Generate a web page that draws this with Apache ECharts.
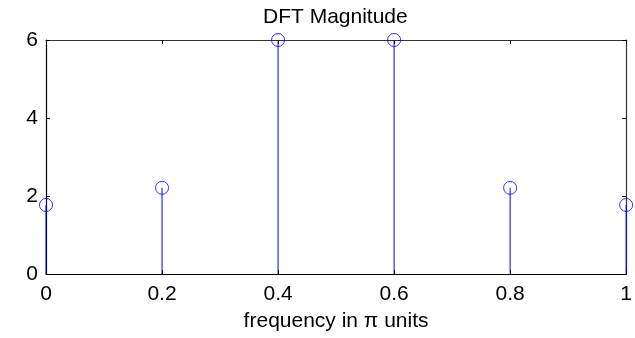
<!DOCTYPE html>
<html>
<head>
<meta charset="utf-8">
<script src="https://cdn.jsdelivr.net/npm/echarts@6/dist/echarts.min.js"></script>
<style>
  html, body { margin: 0; padding: 0; background: #fff; }
  #chart { width: 635px; height: 338px; }
</style>
</head>
<body>
<div id="chart"></div>
<script>
// Frequency samples (in units of pi) and DFT magnitudes
const freqs = [0, 0.2, 0.4, 0.6, 0.8, 1];
const magnitudes = [1.77, 2.21, 6, 6, 2.21, 1.77];
const xTicks = [0, 0.2, 0.4, 0.6, 0.8, 1];
const yTicks = [0, 2, 4, 6];

const points = freqs.map((f, i) => [f, magnitudes[i]]);
const font = 'Liberation Sans, Arial, sans-serif';
const stemColor = '#0000ff';

const chart = echarts.init(document.getElementById('chart'), null, { renderer: 'canvas' });

const axisCommon = {
  axisLine: { show: true, onZero: false, lineStyle: { color: '#000', width: 1.2 } },
  axisTick: { show: true, inside: true, length: 4, lineStyle: { color: '#000', width: 1 } },
  splitLine: { show: false }
};

chart.setOption({
  animation: false,
  title: {
    text: 'DFT Magnitude',
    left: 258,
    top: 2,
    textStyle: { fontFamily: font, fontSize: 21, fontWeight: 'normal', color: '#000' }
  },
  grid: { left: 46, right: 6, top: 40, bottom: 64 },
  xAxis: [
    Object.assign({}, axisCommon, {
      type: 'value', position: 'bottom', min: 0, max: 1, interval: 0.2,
      name: 'frequency in \u03c0 units',
      nameLocation: 'middle', nameGap: 37,
      nameTextStyle: { fontFamily: font, fontSize: 21, color: '#000' },
      axisLabel: {
        fontFamily: font, fontSize: 21, color: '#000', margin: 10,
        formatter: v => xTicks.includes(+v.toFixed(1)) ? String(+v.toFixed(1)) : ''
      }
    }),
    Object.assign({}, axisCommon, {
      type: 'value', position: 'top', min: 0, max: 1, interval: 0.2,
      axisLine: { show: true, onZero: false, lineStyle: { color: '#333', width: 1.2 } },
      axisLabel: { show: false }
    })
  ],
  yAxis: [
    Object.assign({}, axisCommon, {
      type: 'value', position: 'left', min: 0, max: 6, interval: 2,
      axisLabel: {
        fontFamily: font, fontSize: 21, color: '#000', margin: 8,
        formatter: v => yTicks.includes(v) ? String(v) : ''
      }
    }),
    Object.assign({}, axisCommon, {
      type: 'value', position: 'right', min: 0, max: 6, interval: 2,
      axisLine: { show: true, onZero: false, lineStyle: { color: '#333', width: 1.2 } },
      axisLabel: { show: false }
    })
  ],
  series: [
    {
      // vertical stems from zero up to each magnitude
      type: 'custom',
      xAxisIndex: 0, yAxisIndex: 0,
      clip: false,
      data: points,
      renderItem: (params, api) => {
        const base = api.coord([api.value(0), 0]);
        const top = api.coord([api.value(0), api.value(1)]);
        return {
          type: 'line',
          shape: { x1: base[0], y1: base[1], x2: top[0], y2: top[1] },
          style: { stroke: stemColor, lineWidth: 1 }
        };
      },
      z: 3
    },
    {
      // open circle markers at each stem tip
      type: 'scatter',
      xAxisIndex: 0, yAxisIndex: 0,
      clip: false,
      data: points,
      symbol: 'circle',
      symbolSize: 13,
      itemStyle: { color: 'rgba(0,0,0,0)', borderColor: stemColor, borderWidth: 1 },
      z: 4
    }
  ]
});
</script>
</body>
</html>
